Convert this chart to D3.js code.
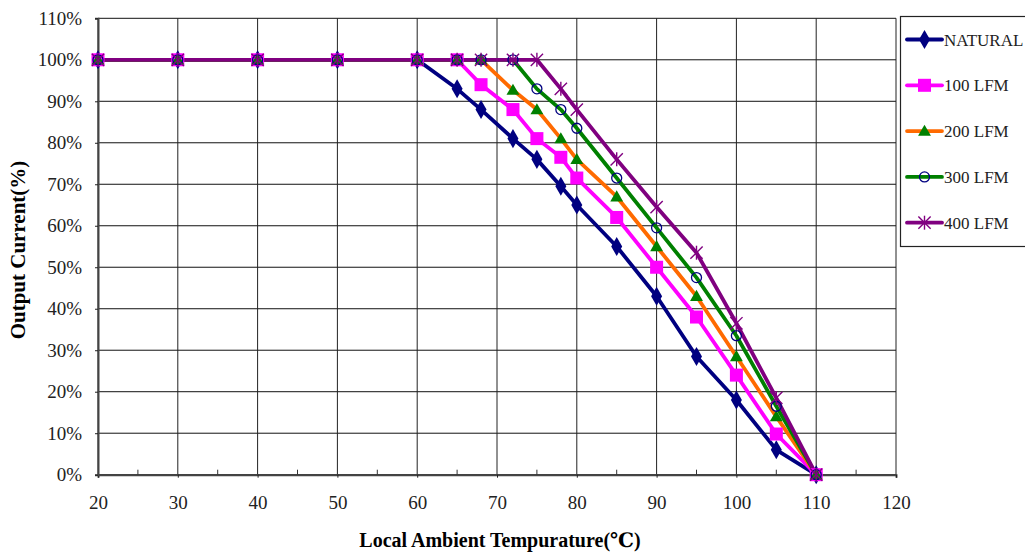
<!DOCTYPE html>
<html>
<head>
<meta charset="utf-8">
<script src="https://cdn.jsdelivr.net/npm/d3@7"></script>
<style>
  body { margin: 0; background: #fff; }
  svg { display: block; font-family: "Liberation Serif", "DejaVu Serif", serif; }
</style>
</head>
<body>
<svg id="chart"></svg>
<script>
// data
const temps = [20, 30, 40, 50, 60, 65, 68, 72, 75, 78, 80, 85, 90, 95, 100, 105, 110];
const natural = [100, 100, 100, 100, 100, 93, 88, 81, 76, 69.5, 65, 55, 43, 28.5, 18, 6, 0];
const lfm100 = [100, 100, 100, 100, 100, 100, 94, 88, 81, 76.5, 71.5, 62, 50, 38, 24, 9.8, 0];
const lfm200 = [100, 100, 100, 100, 100, 100, 100, 92.7, 88, 81, 76, 67, 55, 43, 28.5, 14, 0];
const lfm300 = [100, 100, 100, 100, 100, 100, 100, 100, 93, 88, 83.5, 71.5, 59.5, 47.5, 33.5, 16.5, 0];
const lfm400 = [100, 100, 100, 100, 100, 100, 100, 100, 100, 93, 88, 76, 64.5, 53.5, 36.5, 18.5, 0];
const seriesNames = ["NATURAL", "100 LFM", "200 LFM", "300 LFM", "400 LFM"];
const xTicks = [20, 30, 40, 50, 60, 70, 80, 90, 100, 110, 120];
const yTicks = [0, 10, 20, 30, 40, 50, 60, 70, 80, 90, 100, 110];

const width = 1025, height = 554;
const margin = {top: 18.3, right: 129, bottom: 79.3, left: 98};

const svg = d3.select("#chart").attr("width", width).attr("height", height);

const x = d3.scaleLinear().domain([20, 120]).range([margin.left, width - margin.right]);
const y = d3.scaleLinear().domain([0, 110]).range([height - margin.bottom, margin.top]);

const styles = [
  {line: "#000080", marker: "diamond", fill: "#000080", stroke: "#000080"},
  {line: "#ff00ff", marker: "square", fill: "#ff00ff", stroke: "#ff00ff"},
  {line: "#ff6a00", marker: "triangle", fill: "#008000", stroke: "#008000"},
  {line: "#008000", marker: "circle", fill: "none", stroke: "#000080"},
  {line: "#800080", marker: "star", fill: "none", stroke: "#800080"}
];

const allValues = [natural, lfm100, lfm200, lfm300, lfm400];
const series = seriesNames.map((name, i) => ({
  name: name,
  style: styles[i],
  points: temps.map((t, j) => ({t: t, v: allValues[i][j]}))
}));

// grid
const grid = svg.append("g");
grid.selectAll("line.h")
  .data(yTicks)
  .enter().append("line")
  .attr("x1", x(20)).attr("x2", x(120))
  .attr("y1", d => y(d)).attr("y2", d => y(d))
  .attr("stroke", "#111").attr("stroke-width", 1);
grid.selectAll("line.v")
  .data(xTicks)
  .enter().append("line")
  .attr("x1", d => x(d)).attr("x2", d => x(d))
  .attr("y1", y(0)).attr("y2", y(110))
  .attr("stroke", "#222").attr("stroke-width", 1);

// axes
const xAxis = d3.axisBottom(x).tickValues(xTicks).tickSize(3).tickPadding(18);
const yAxis = d3.axisLeft(y).tickValues(yTicks).tickSize(3).tickPadding(13).tickFormat(d => d + "%");

const xg = svg.append("g").attr("transform", "translate(0," + y(0) + ")").call(xAxis);
const yg = svg.append("g").attr("transform", "translate(" + x(20) + ",0)").call(yAxis);
[xg, yg].forEach(g => {
  g.select(".domain").attr("stroke", "#444").attr("stroke-width", 2);
  g.selectAll(".tick line").attr("stroke", "#222");
  g.selectAll("text")
    .style("font-family", "Liberation Serif")
    .style("font-size", "19px")
    .attr("fill", "#222");
});

// minor x ticks
svg.append("g").selectAll("line")
  .data(d3.range(25, 120, 10))
  .enter().append("line")
  .attr("x1", d => x(d)).attr("x2", d => x(d))
  .attr("y1", y(0)).attr("y2", y(0) - 5)
  .attr("stroke", "#333");

// lines
const line = d3.line().x(d => x(d.t)).y(d => y(d.v));
svg.append("g").selectAll("path")
  .data(series)
  .enter().append("path")
  .attr("d", d => line(d.points))
  .attr("fill", "none")
  .attr("stroke", d => d.style.line)
  .attr("stroke-width", 3.8)
  .attr("stroke-linejoin", "round");

function drawMarker(g, style, cx, cy) {
  if (style.marker === "diamond") {
    g.append("path").attr("d", d3.symbol(d3.symbolDiamond, 105)())
      .attr("transform", "translate(" + cx + "," + cy + ")")
      .attr("fill", style.fill);
  } else if (style.marker === "square") {
    g.append("rect").attr("x", cx - 6.5).attr("y", cy - 6.5)
      .attr("width", 13).attr("height", 13).attr("fill", style.fill);
  } else if (style.marker === "triangle") {
    g.append("path").attr("d", d3.symbol(d3.symbolTriangle, 72)())
      .attr("transform", "translate(" + cx + "," + (cy + 1) + ")")
      .attr("fill", style.fill);
  } else if (style.marker === "circle") {
    g.append("circle").attr("cx", cx).attr("cy", cy).attr("r", 5)
      .attr("fill", "none").attr("stroke", style.stroke).attr("stroke-width", 1.3);
  } else {
    g.append("path").attr("d", d3.symbol(d3.symbolTimes, 100)())
      .attr("transform", "translate(" + cx + "," + cy + ")")
      .attr("fill", "none").attr("stroke", style.stroke).attr("stroke-width", 1.4);
    g.append("line").attr("x1", cx).attr("x2", cx).attr("y1", cy - 7).attr("y2", cy + 7)
      .attr("stroke", style.stroke).attr("stroke-width", 1.4);
  }
}

// markers
const markers = svg.append("g");
series.forEach(s => {
  s.points.forEach(p => drawMarker(markers, s.style, x(p.t), y(p.v)));
});

// legend
const legend = svg.append("g");
legend.append("rect")
  .attr("x", 900.5).attr("y", 16.5)
  .attr("width", 140).attr("height", 230)
  .attr("fill", "#fff").attr("stroke", "#222").attr("stroke-width", 1.2);
series.forEach((s, i) => {
  const ly = 39.5 + i * 45.8;
  legend.append("line")
    .attr("x1", 907).attr("x2", 942).attr("y1", ly).attr("y2", ly)
    .attr("stroke", s.style.line).attr("stroke-width", 3.8).attr("stroke-linecap", "round");
  drawMarker(legend, s.style, 924.5, ly);
  legend.append("text")
    .attr("x", 944).attr("y", ly + 6)
    .style("font-size", "17px")
    .attr("fill", "#222")
    .text(s.name);
});

// axis titles
svg.append("text")
  .attr("x", 500).attr("y", 547)
  .attr("text-anchor", "middle")
  .style("font-size", "20px").style("font-weight", "bold")
  .text("Local Ambient Tempurature(℃)");

svg.append("text")
  .attr("transform", "translate(25,250) rotate(-90)")
  .attr("text-anchor", "middle")
  .style("font-size", "21px").style("font-weight", "bold")
  .text("Output Current(%)");
</script>
</body>
</html>
